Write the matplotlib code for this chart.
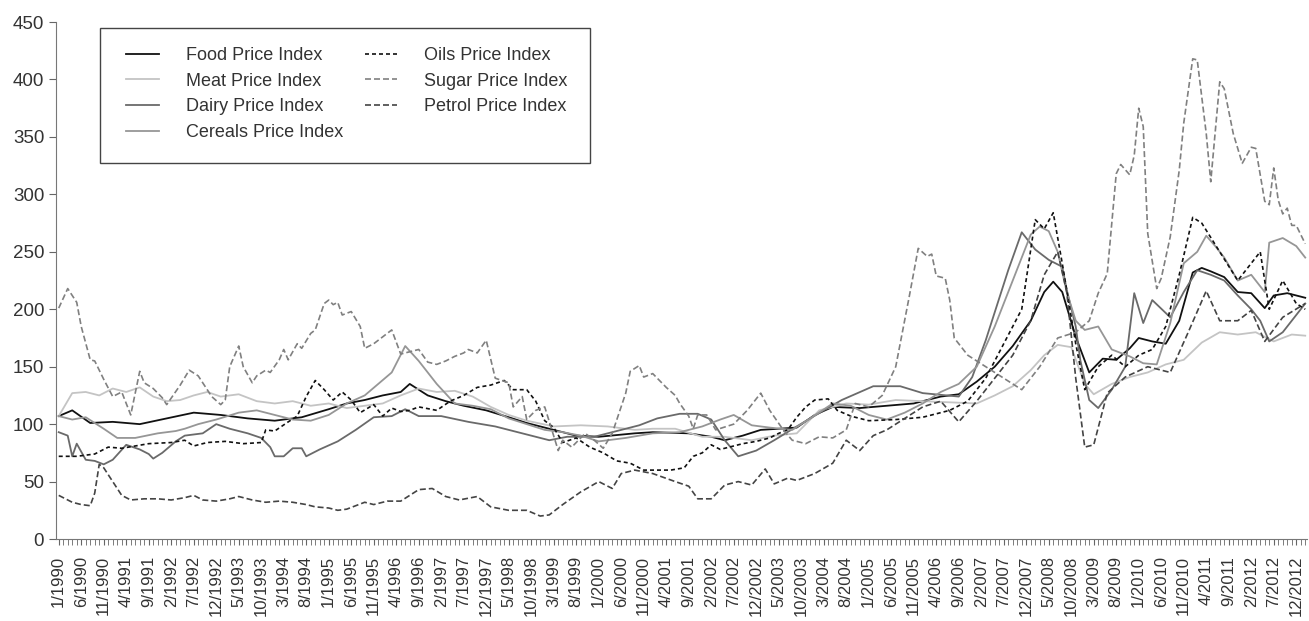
import matplotlib
matplotlib.use("Agg")
import matplotlib.pyplot as plt
from matplotlib.patches import Rectangle
from matplotlib.ticker import MultipleLocator

plt.rcParams['font.family'] = ['Liberation Sans', 'DejaVu Sans']
plt.rcParams['text.color'] = '#333333'

# month index 0 = 1/1990
food_m = [0, 3, 7, 12, 18, 24, 30, 36, 42, 48, 54, 60, 64, 68, 72, 76, 78, 82, 86, 90, 95, 100, 104, 110, 115, 120,
          128, 132, 140, 145, 148, 152, 156, 160, 164, 168, 172, 178, 184, 190, 196, 200, 204, 208, 212, 216, 219,
          221, 223, 226, 229, 232, 235, 238, 240, 243, 246, 249, 252, 254, 256, 259, 262, 265, 268, 270, 273, 277]
food_v = [107, 112, 101, 102, 100, 105, 110, 108, 105, 103, 106, 113, 118, 121, 125, 128, 135, 125, 120, 116, 112, 106,
          101, 95, 90, 89, 92, 93, 92, 89, 86, 90, 95, 96, 97, 108, 115, 114, 116, 118, 124, 126, 137, 150, 168, 190,
          215, 224, 215, 176, 145, 157, 156, 166, 175, 172, 170, 190, 232, 236, 233, 228, 215, 214, 201, 212, 214, 210]

meat_m = [0, 3, 6, 9, 12, 15, 18, 21, 24, 27, 30, 33, 36, 40, 44, 48, 52, 56, 60, 64, 68, 72, 76, 80, 84, 88, 92, 96,
          100, 104, 110, 116, 122, 128, 132, 137, 143, 148, 154, 159, 164, 169, 175, 180, 186, 192, 198, 204, 208,
          212, 216, 219, 222, 225, 228, 230, 234, 238, 242, 246, 250, 254, 258, 262, 266, 270, 274, 277]
meat_v = [107, 127, 128, 125, 131, 128, 132, 124, 120, 121, 125, 128, 124, 126, 120, 118, 120, 116, 118, 114, 116, 118,
          125, 131, 128, 129, 124, 115, 108, 103, 98, 99, 98, 95, 96, 96, 89, 89, 86, 90, 92, 112, 118, 117, 121, 120,
          119, 118, 125, 133, 147, 160, 169, 167, 135, 126, 135, 141, 145, 152, 156, 171, 180, 178, 180, 172, 178, 177]

dairy_m = [0, 2, 3, 4, 6, 8, 10, 12, 15, 18, 20, 21, 23, 26, 28, 32, 35, 38, 42, 45, 47, 48, 50, 52, 54, 55, 58, 62,
           66, 70, 74, 77, 80, 85, 91, 97, 103, 109, 113, 119, 125, 129, 133, 138, 142, 145, 148, 151, 155, 159, 164,
           170, 174, 181, 187, 192, 200, 203, 206, 211, 214, 217, 220, 223, 224, 226, 227, 229, 231, 234, 237, 239,
           241, 243, 247, 250, 253, 256, 259, 262, 265, 267, 269, 272, 275, 277]
dairy_v = [93, 90, 72, 83, 69, 68, 65, 69, 82, 78, 74, 70, 75, 85, 90, 92, 100, 96, 92, 88, 80, 72, 72, 79, 79, 72, 78,
           85, 95, 106, 107, 113, 107, 107, 102, 98, 92, 86, 89, 89, 95, 99, 105, 109, 109, 104, 86, 72, 77, 86, 98,
           112, 121, 133, 133, 127, 124, 141, 173, 234, 267, 252, 243, 237, 217, 185, 156, 121, 114, 130, 150, 214,
           188, 208, 193, 215, 234, 230, 225, 212, 200, 190, 172, 180, 195, 205]

cereals_m = [0, 3, 6, 10, 13, 17, 22, 26, 28, 31, 35, 40, 44, 48, 52, 56, 60, 64, 68, 71, 74, 77, 80, 84, 88, 92, 96,
             100, 104, 108, 112, 116, 120, 126, 132, 138, 143, 147, 150, 154, 158, 163, 167, 172, 176, 180, 184, 188,
             192, 196, 200, 204, 208, 210, 212, 214, 216, 218, 220, 222, 224, 226, 228, 231, 234, 238, 241, 244, 247,
             250, 253, 255, 257, 259, 262, 265, 268, 269, 272, 275, 277]
cereals_v = [107, 104, 106, 96, 88, 88, 92, 94, 96, 100, 104, 110, 112, 108, 104, 103, 108, 118, 125, 135, 145, 168,
             155, 135, 118, 116, 113, 105, 100, 95, 93, 90, 85, 88, 92, 93, 98, 104, 108, 99, 97, 95, 105, 118, 116,
             108, 104, 110, 118, 128, 135, 150, 185, 205, 225, 245, 265, 272, 268, 250, 215, 190, 182, 185, 165, 159,
             153, 152, 188, 240, 250, 264, 255, 245, 225, 230, 215, 258, 262, 255, 245]

oils_m = [0, 4, 8, 11, 14, 17, 20, 25, 28, 30, 33, 37, 41, 45, 46, 48, 51, 53, 55, 57, 59, 61, 63, 65, 67, 70, 72, 74,
          76, 78, 80, 84, 87, 90, 93, 96, 99, 101, 104, 106, 108, 110, 112, 115, 118, 121, 124, 127, 130, 133, 136, 139,
          141, 143, 145, 147, 149, 152, 155, 158, 160, 162, 164, 166, 168, 171, 173, 176, 180, 186, 192, 198, 202, 206,
          210, 214, 217, 219, 221, 223, 226, 228, 231, 234, 237, 240, 243, 246, 249, 252, 254, 258, 262, 267, 269,
          272, 275, 277]
oils_v = [72, 72, 74, 80, 79, 81, 83, 84, 86, 81, 84, 85, 83, 84, 95, 94, 102, 107, 124, 138, 130, 121, 128, 121, 110,
          117, 107, 114, 111, 112, 115, 112, 120, 125, 132, 134, 138, 130, 130, 120, 103, 97, 84, 88, 80, 75, 68, 66,
          60, 60, 60, 62, 72, 75, 82, 78, 80, 83, 85, 88, 92, 95, 106, 115, 121, 122, 112, 107, 103, 104, 106, 112,
          120, 140, 170, 200, 278, 270, 284, 240, 170, 130, 150, 160, 150, 160, 165, 185, 230, 280, 275, 250, 225,
          250, 200, 225, 205, 200]

sugar_m = [0, 2, 4, 5, 7, 8, 10, 12, 14, 16, 18, 19, 21, 23, 24, 27, 29, 31, 34, 36, 37, 38, 40, 41, 43, 44, 46, 47,
           49, 50, 51, 53, 54, 56, 57, 59, 60, 61, 62, 63, 65, 67, 68, 70, 74, 76, 80, 82, 84, 86, 88, 90, 91, 93, 95,
           97, 100, 101, 103, 104, 106, 108, 111, 112, 114, 117, 119, 121, 123, 126, 127, 129, 130, 132, 135, 137,
           138, 140, 141, 142, 144, 146, 150, 153, 156, 158, 161, 163, 166, 169, 172, 175, 177, 180, 183, 186, 189,
           191, 193, 194, 195, 197, 198, 199, 202, 206, 210, 214, 218, 222, 226, 229, 231, 233, 235, 236, 238, 239,
           240, 241, 242, 244, 245, 247, 249, 250, 252, 253, 255, 256, 258, 259, 261, 263, 265, 266, 268, 269, 270,
           271, 272, 273, 274, 275, 277]
sugar_v = [201, 218, 206, 185, 156, 155, 139, 124, 128, 108, 146, 136, 131, 123, 117, 134, 147, 142, 124, 117, 121,
           150, 168, 150, 136, 142, 147, 145, 156, 165, 156, 170, 166, 179, 182, 205, 208, 204, 206, 195, 198, 185,
           166, 170, 182, 161, 165, 154, 152, 155, 159, 162, 165, 162, 173, 140, 136, 115, 124, 104, 112, 115, 77, 86,
           80, 92, 86, 79, 92, 127, 146, 151, 141, 144, 132, 125, 118, 107, 96, 108, 108, 95, 100, 112, 127, 112, 95,
           86, 83, 89, 88, 95, 118, 115, 125, 150, 211, 253, 246, 248, 229, 227, 208, 175, 160, 150, 140, 130, 150,
           175, 180, 190, 214, 231, 318, 326, 317, 334, 375, 359, 266, 218, 227, 263, 321, 362, 418, 417, 353, 311,
           398, 392, 353, 327, 341, 340, 294, 291, 323, 295, 283, 288, 273, 273, 257]

petrol_m = [0, 3, 5, 7, 8, 9, 10, 12, 14, 16, 19, 22, 25, 28, 30, 32, 35, 38, 40, 43, 46, 49, 52, 55, 57, 60, 62, 64,
            66, 68, 70, 73, 76, 80, 83, 86, 89, 93, 96, 100, 104, 107, 109, 112, 116, 120, 123, 125, 128, 132, 137, 140,
            142, 145, 148, 151, 154, 157, 159, 162, 164, 168, 172, 175, 178, 181, 184, 188, 192, 196, 200, 204, 208,
            212, 216, 219, 222, 224, 226, 228, 230, 233, 237, 242, 247, 251, 255, 258, 262, 265, 268, 272, 277]
petrol_v = [38, 32, 30, 29, 40, 65, 62, 50, 38, 34, 35, 35, 34, 36, 38, 34, 33, 35, 37, 34, 32, 33, 32, 30, 28, 27, 25,
            26, 29, 32, 30, 33, 33, 43, 44, 37, 34, 37, 28, 25, 25, 20, 21, 30, 41, 50, 44, 57, 60, 57, 50, 46, 35, 35,
            47, 50, 47, 61, 48, 53, 51, 57, 66, 86, 77, 90, 95, 105, 115, 120, 102, 120, 140, 160, 190, 230, 250, 215,
            140, 80, 82, 127, 141, 150, 145, 180, 216, 190, 190, 199, 172, 193, 205]

year_labels = [f"{(m % 12) + 1}/{1990 + m // 12}" for m in range(0, 276, 5)]

fig = plt.figure(figsize=(13.09, 6.21), dpi=100)
ax = fig.add_axes([0.0428, 0.132, 0.9557, 0.8325])

ax.plot(food_m, food_v, color='#111111', lw=1.3, label='Food Price Index')
ax.plot(meat_m, meat_v, color='#c4c4c4', lw=1.3, label='Meat Price Index')
ax.plot(dairy_m, dairy_v, color='#6a6a6a', lw=1.3, label='Dairy Price Index')
ax.plot(cereals_m, cereals_v, color='#969696', lw=1.3, label='Cereals Price Index')
ax.plot(oils_m, oils_v, color='#111111', lw=1.2, ls=(0, (2.4, 1.8)), label='Oils Price Index')
ax.plot(sugar_m, sugar_v, color='#808080', lw=1.2, ls=(0, (3.6, 1.8)), label='Sugar Price Index')
ax.plot(petrol_m, petrol_v, color='#444444', lw=1.2, ls=(0, (3.6, 1.8)), label='Petrol Price Index')

ax.set_xlim(-0.6, 277.4)
ax.set_ylim(0, 450)
ax.yaxis.set_major_locator(MultipleLocator(50))
ax.set_xticks(range(0, 276, 5))
ax.set_xticklabels(year_labels, rotation=90, fontsize=12, color='#333333')
ax.xaxis.set_minor_locator(MultipleLocator(1))
ax.tick_params(axis='y', labelsize=13.5, length=5, color='#666666', labelcolor='#333333')
ax.tick_params(axis='x', which='both', length=4, color='#666666', pad=8)

for s in ['top', 'right']:
    ax.spines[s].set_visible(False)
for s in ['left', 'bottom']:
    ax.spines[s].set_color('#777777')

W, H = 1309, 621
leg = ax.legend(ncol=2, loc='upper left', bbox_to_anchor=(126 / W, 1 - 47 / H), bbox_transform=fig.transFigure,
                fontsize=13, frameon=False, handlelength=1.8, handletextpad=1.5, columnspacing=1.2,
                borderpad=0, borderaxespad=0, labelspacing=0.48)
fig.patches.append(Rectangle((100 / W, 1 - 163 / H), 490 / W, 135 / H, transform=fig.transFigure,
                             fill=False, edgecolor='#444444', lw=1.0))

fig.savefig('out.png', dpi=100)
